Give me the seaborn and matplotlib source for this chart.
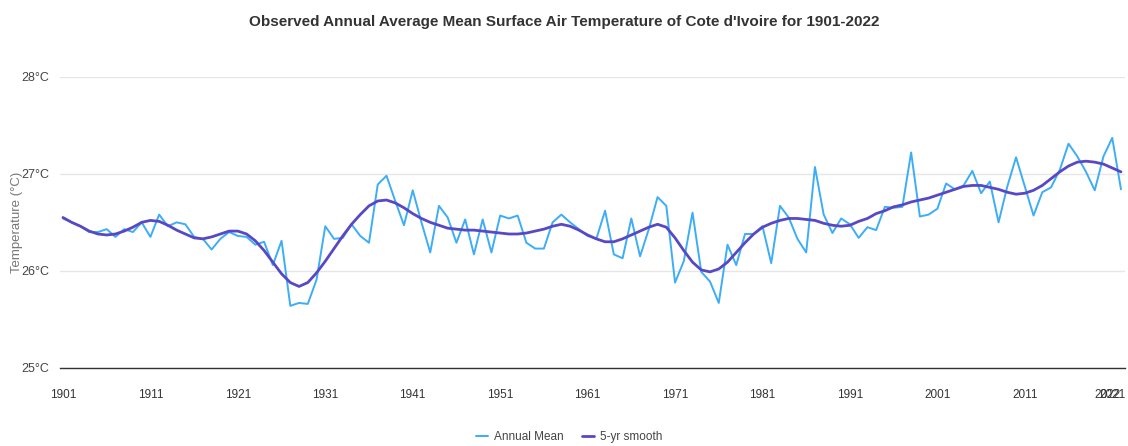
import numpy as np
import pandas as pd
import matplotlib
matplotlib.use('Agg')
import matplotlib.pyplot as plt
import seaborn as sns

years = list(range(1901, 2023))

annual_mean = [
    26.54, 26.50, 26.46, 26.40, 26.40, 26.43, 26.35, 26.43, 26.40, 26.50,  # 1901-1910
    26.35, 26.58, 26.46, 26.50, 26.48, 26.35, 26.33, 26.22, 26.33, 26.40,  # 1911-1920
    26.36, 26.35, 26.27, 26.30, 26.06, 26.31, 25.64, 25.67, 25.66, 25.91,  # 1921-1930
    26.46, 26.33, 26.34, 26.48, 26.36, 26.29, 26.89, 26.98, 26.72, 26.47,  # 1931-1940
    26.83, 26.50, 26.19, 26.67, 26.55, 26.29, 26.53, 26.17, 26.53, 26.19,  # 1941-1950
    26.57, 26.54, 26.57, 26.29, 26.23, 26.23, 26.50, 26.58, 26.50, 26.43,  # 1951-1960
    26.36, 26.33, 26.62, 26.17, 26.13, 26.54, 26.15, 26.43, 26.76, 26.67,  # 1961-1970
    25.88, 26.10, 26.60, 25.99, 25.89, 25.67, 26.27, 26.06, 26.38, 26.38,  # 1971-1980
    26.46, 26.08, 26.67, 26.55, 26.33, 26.19, 27.07, 26.58, 26.39, 26.54,  # 1981-1990
    26.48, 26.34, 26.45, 26.42, 26.66, 26.65, 26.66, 27.22, 26.56, 26.58,  # 1991-2000
    26.64, 26.90, 26.84, 26.88, 27.03, 26.80, 26.92, 26.50, 26.87, 27.17,  # 2001-2010
    26.87, 26.57, 26.81, 26.86, 27.04, 27.31, 27.18, 27.02, 26.83, 27.18,  # 2011-2020
    27.37, 26.84,                                                          # 2021-2022
]

smooth_5yr = [
    26.55, 26.50, 26.46, 26.41, 26.38, 26.37, 26.38, 26.41, 26.45, 26.50,
    26.52, 26.51, 26.47, 26.42, 26.38, 26.34, 26.33, 26.35, 26.38, 26.41,
    26.41, 26.38, 26.31, 26.21, 26.09, 25.97, 25.88, 25.84, 25.88, 25.98,
    26.10, 26.23, 26.36, 26.48, 26.58, 26.67, 26.72, 26.73, 26.70, 26.65,
    26.59, 26.54, 26.50, 26.47, 26.44, 26.43, 26.42, 26.42, 26.41, 26.40,
    26.39, 26.38, 26.38, 26.39, 26.41, 26.43, 26.46, 26.48, 26.46, 26.42,
    26.37, 26.33, 26.30, 26.30, 26.33, 26.37, 26.41, 26.45, 26.48, 26.45,
    26.34, 26.21, 26.09, 26.01, 25.99, 26.02, 26.09, 26.19, 26.29, 26.38,
    26.45, 26.49, 26.52, 26.54, 26.54, 26.53, 26.52, 26.49, 26.47, 26.46,
    26.47, 26.51, 26.54, 26.59, 26.62, 26.66, 26.68, 26.71, 26.73, 26.75,
    26.78, 26.81, 26.84, 26.87, 26.88, 26.88, 26.86, 26.84, 26.81, 26.79,
    26.80, 26.83, 26.88, 26.95, 27.02, 27.08, 27.12, 27.13, 27.12, 27.10,
    27.06, 27.02,
]

y_ticks = [25, 26, 27, 28]
x_ticks = [1901, 1911, 1921, 1931, 1941, 1951, 1961, 1971, 1981, 1991, 2001, 2011, 2021, 2022]

sns.set_theme(style='white')
plt.rcParams['font.family'] = ['Liberation Sans', 'DejaVu Sans']

W, H = 1128, 446
fig = plt.figure(figsize=(W / 100, H / 100), dpi=100)
ax = fig.add_axes([60 / W, 1 - 368 / H, 1065 / W, (368 - 76.7) / H])

df_a = pd.DataFrame({'year': years, 'temp': annual_mean})
df_s = pd.DataFrame({'year': years, 'temp': smooth_5yr})
sns.lineplot(data=df_a, x='year', y='temp', ax=ax, color='#3cadf6', linewidth=1.4, label='Annual Mean')
sns.lineplot(data=df_s, x='year', y='temp', ax=ax, color='#5848c4', linewidth=2.0, label='5-yr smooth')

ax.set_xlim(1900.66, 2022.46)
ax.set_ylim(25, 28)
ax.set_yticks(y_ticks)
ax.set_yticklabels([f'{v}°C' for v in y_ticks])
ax.set_xticks(x_ticks)
ax.set_xticklabels([str(v) for v in x_ticks])
ax.get_xticklabels()[-1].set_horizontalalignment('right')  # keep the last label inside the figure
ax.set_xlabel('')
ax.set_ylabel('')
ax.grid(axis='y', color='#e6e6e6', linewidth=1)
ax.grid(axis='x', visible=False)
ax.set_axisbelow(True)
for s in ['top', 'right', 'left']:
    ax.spines[s].set_visible(False)
ax.spines['bottom'].set_color('#333333')
ax.spines['bottom'].set_linewidth(1)
ax.tick_params(axis='y', length=0, labelsize=9, colors='#444444', pad=8)
ax.tick_params(axis='x', length=0, labelsize=8.5, colors='#333333', pad=15)

ax.get_legend().remove()
handles, labels = ax.get_legend_handles_labels()
fig.legend(handles, labels, loc='center', bbox_to_anchor=(569 / W, 1 - 437 / H), ncol=2,
           frameon=False, fontsize=8.5, handlelength=1.0, handletextpad=0.5, columnspacing=1.6,
           labelcolor='#444444')

fig.text(0.5, 1 - 22 / H, "Observed Annual Average Mean Surface Air Temperature of Cote d'Ivoire for 1901-2022",
         ha='center', va='center', fontsize=11, fontweight='bold', color='#333333')
fig.text(17 / W, 1 - 222 / H, 'Temperature (°C)', rotation=90, ha='center', va='center',
         fontsize=9.5, color='#777777')

fig.savefig('out.png', dpi=100)
